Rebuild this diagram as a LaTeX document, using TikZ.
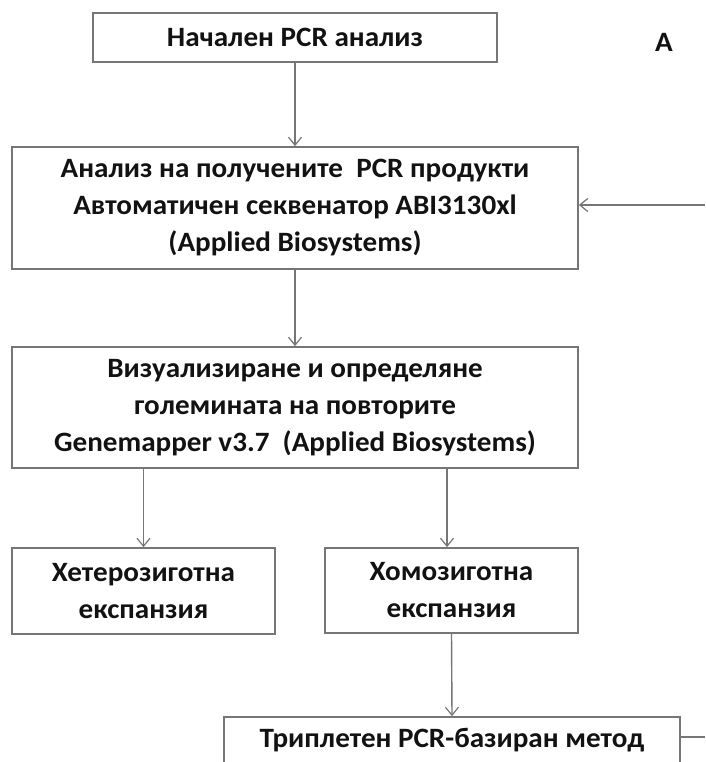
\documentclass[tikz,border=0pt]{standalone}
\usepackage{fontspec}
\setmainfont{Carlito}[FakeStretch=1.04]
\usetikzlibrary{arrows.meta}
\definecolor{edgegray}{RGB}{118,118,118}
\definecolor{inkcol}{RGB}{18,18,18}
\begin{document}
\begin{tikzpicture}[x=1pt,y=-1pt,
  stepbox/.style={draw=edgegray, line width=1.7pt, rectangle, inner sep=0pt,
    align=center, text=inkcol, font=\fontsize{28}{37}\selectfont\bfseries},
  arr/.style={draw=edgegray, line width=1.4pt,
    -{Straight Barb[length=8pt,width=13pt,line width=1.2pt]}},
  link/.style={draw=edgegray, line width=1.4pt}]
\useasboundingbox (0,0) rectangle (705,762);
\clip (0,0) rectangle (705,762);

% process boxes
\node[stepbox, minimum width=404pt, minimum height=49pt] (b1) at (295,37.5)
  {Начален PCR анализ};
\node[stepbox, minimum width=566pt, minimum height=122pt] (b2) at (295,208)
  {Анализ на получените\ \ PCR продукти\\Автоматичен секвенатор ABI3130xl\\(Applied Biosystems)};
\node[stepbox, minimum width=566pt, minimum height=121pt] (b3) at (295,407.5)
  {Визуализиране и определяне\\големината на повторите\\Genemapper v3.7\ \ (Applied Biosystems)};
\node[stepbox, minimum width=263pt, minimum height=86pt] (b4) at (143.5,591)
  {Хетерозиготна\\експанзия};
\node[stepbox, minimum width=253pt, minimum height=85pt] (b5) at (451.5,590.5)
  {Хомозиготна\\експанзия};
% last box runs past the lower edge of the page
\node[stepbox, minimum width=456pt, text height=30pt, text depth=30pt] (b6) at (452,747)
  {Триплетен PCR-базиран метод};

% label
\node[text=inkcol, font=\fontsize{28}{30}\selectfont\bfseries] (lab) at (664,42) {A};

% loose ends at the right margin
\coordinate (fb) at (705,205);
\coordinate (out) at (705,737);

% connectors
\draw[arr] (b1.south) -- (b2.north);
\draw[arr] (fb) -- (b2.east |- fb);
\draw[arr] (b2.south) -- (b3.north);
\draw[arr] (b4.north |- b3.south) -- (b4.north);
\draw[arr] ([xshift=-4.5pt]b5.north |- b3.south) -- ([xshift=-4.5pt]b5.north);
\draw[arr] (b5.south) -- (b6.north);
\draw[link] (b6.east |- out) -- (out);
\end{tikzpicture}
\end{document}
